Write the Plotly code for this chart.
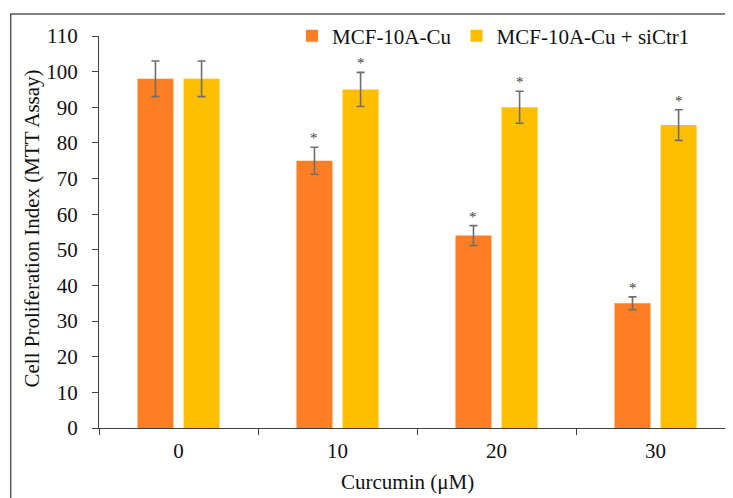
import plotly.graph_objects as go

categories = ["0", "10", "20", "30"]
series_names = ["MCF-10A-Cu", "MCF-10A-Cu + siCtr1"]
cu_values = [98, 75, 54, 35]
cu_errors = [5, 3.8, 2.8, 1.8]
sictr_values = [98, 95, 90, 85]
sictr_errors = [5, 4.8, 4.5, 4.3]
cu_marks = ["", "*", "*", "*"]
sictr_marks = ["", "*", "*", "*"]
y_ticks = list(range(0, 111, 10))

ORANGE = "#FD7E23"
GOLD = "#FFBF00"
ERR = "#6E6E6E"
AXIS = "#404040"
TXT = "#111111"
FONT = "Liberation Serif, Times New Roman, serif"
FS = 21

# page body has an 8px margin: figure origin sits at (8, 8) of the window
W, H = 725, 490
L, T, B = 91, 28, 70
PW, PH = W - L, H - T - B

fig = go.Figure()
for name, vals, errs, col in [
    (series_names[0], cu_values, cu_errors, ORANGE),
    (series_names[1], sictr_values, sictr_errors, GOLD),
]:
    fig.add_trace(go.Bar(
        x=categories, y=vals, name=name,
        marker=dict(color=col, line=dict(width=0)),
        error_y=dict(type="data", array=errs, visible=True,
                     color=ERR, thickness=1.6, width=4),
    ))

bargap = 0.42
slot = (1 - bargap) / 2
annotations = []
for k, (vals, errs, marks) in enumerate([(cu_values, cu_errors, cu_marks),
                                          (sictr_values, sictr_errors, sictr_marks)]):
    off = (k - 0.5) * slot
    for i, (v, e, m) in enumerate(zip(vals, errs, marks)):
        if m:
            annotations.append(dict(
                x=i + off, y=v + e, xref="x", yref="y", text=m, showarrow=False,
                yanchor="bottom", yshift=-1,
                font=dict(family=FONT, size=15, color="#404040")))

annotations.append(dict(
    x=(23 - L) / PW, y=0.5 + 3.5 / PH, xref="paper", yref="paper",
    text="Cell Proliferation Index (MTT Assay)", textangle=-90, showarrow=False,
    xanchor="center", yanchor="middle",
    font=dict(family=FONT, size=FS, color=TXT)))
annotations.append(dict(
    x=(399.5 - L) / PW, y=-(474 - (T + PH)) / PH, xref="paper", yref="paper",
    text="Curcumin (μM)", showarrow=False, xanchor="center", yanchor="middle",
    font=dict(family=FONT, size=FS, color=TXT)))

fig.update_layout(
    width=W, height=H,
    margin=dict(l=L, r=0, t=T, b=B),
    paper_bgcolor="white", plot_bgcolor="white",
    barmode="group", bargap=bargap, bargroupgap=0.22,
    font=dict(family=FONT, size=FS, color=TXT),
    showlegend=True,
    legend=dict(orientation="h", x=(309 - L) / PW - 0.0394, y=1.0, xanchor="left", yanchor="middle",
                font=dict(family=FONT, size=FS, color=TXT),
                bgcolor="rgba(0,0,0,0)", itemwidth=30, tracegroupgap=0),
    annotations=annotations,
    shapes=[dict(type="rect", xref="paper", yref="paper",
                 x0=(2.7 - L) / PW, x1=1.2, y0=-0.5, y1=1 + (T - 6) / PH,
                 line=dict(color="#5a5a5a", width=1.5), layer="above")],
)
fig.update_xaxes(type="category", range=[-0.5, 3.487], tickson="boundaries",
                 ticks="outside", ticklen=6, tickwidth=1.2, tickcolor=AXIS,
                 showline=True, linecolor=AXIS, linewidth=1.2, showgrid=False,
                 ticklabelstandoff=4,
                 tickfont=dict(family=FONT, size=FS, color=TXT))
fig.update_yaxes(range=[0, 110], tickvals=y_ticks, ticks="outside", ticklen=6,
                 tickwidth=1.2, tickcolor=AXIS, showline=True, linecolor=AXIS,
                 linewidth=1.2, showgrid=False, zeroline=False,
                 ticklabelstandoff=10,
                 tickfont=dict(family=FONT, size=FS, color=TXT))

fig.write_html("out.html")
